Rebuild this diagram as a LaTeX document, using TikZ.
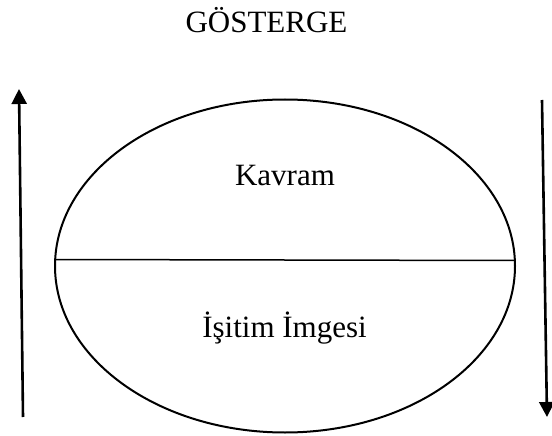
\documentclass[tikz,border=0pt]{standalone}
\usepackage{fontspec}
\setmainfont{Liberation Serif}
\usetikzlibrary{shapes.geometric,arrows.meta}
\begin{document}
\begin{tikzpicture}[x=1pt,y=-1pt,
  lbl/.style={anchor=base,inner sep=0pt,font=\fontsize{31}{37}\selectfont},
  oval/.style={draw,line width=2pt,ellipse,minimum width=460pt,minimum height=333pt,inner sep=0pt},
  flow/.style={line width=2.6pt,-{Triangle[length=15pt,width=15pt]}}]
\useasboundingbox (0,0) rectangle (552,436);
\node[lbl] (title) at (266.5,33) {GÖSTERGE};
\node[oval] (sign) at (285,266) {};
\node[lbl] (kavram) at (285,185) {Kavram};
\node[lbl] (isitim) at (284.5,337) {İşitim İmgesi};
\coordinate (hl) at (55.2,259.5);
\coordinate (hr) at (514.8,260.5);
\draw[line width=1.5pt] (hl) -- (hr);
\coordinate (lb) at (23,417);
\coordinate (lt) at (19,89);
\coordinate (rt) at (542,100);
\coordinate (rb) at (547,417);
\draw[flow] (lb) -- (lt);
\draw[flow] (rt) -- (rb);
\end{tikzpicture}
\end{document}
